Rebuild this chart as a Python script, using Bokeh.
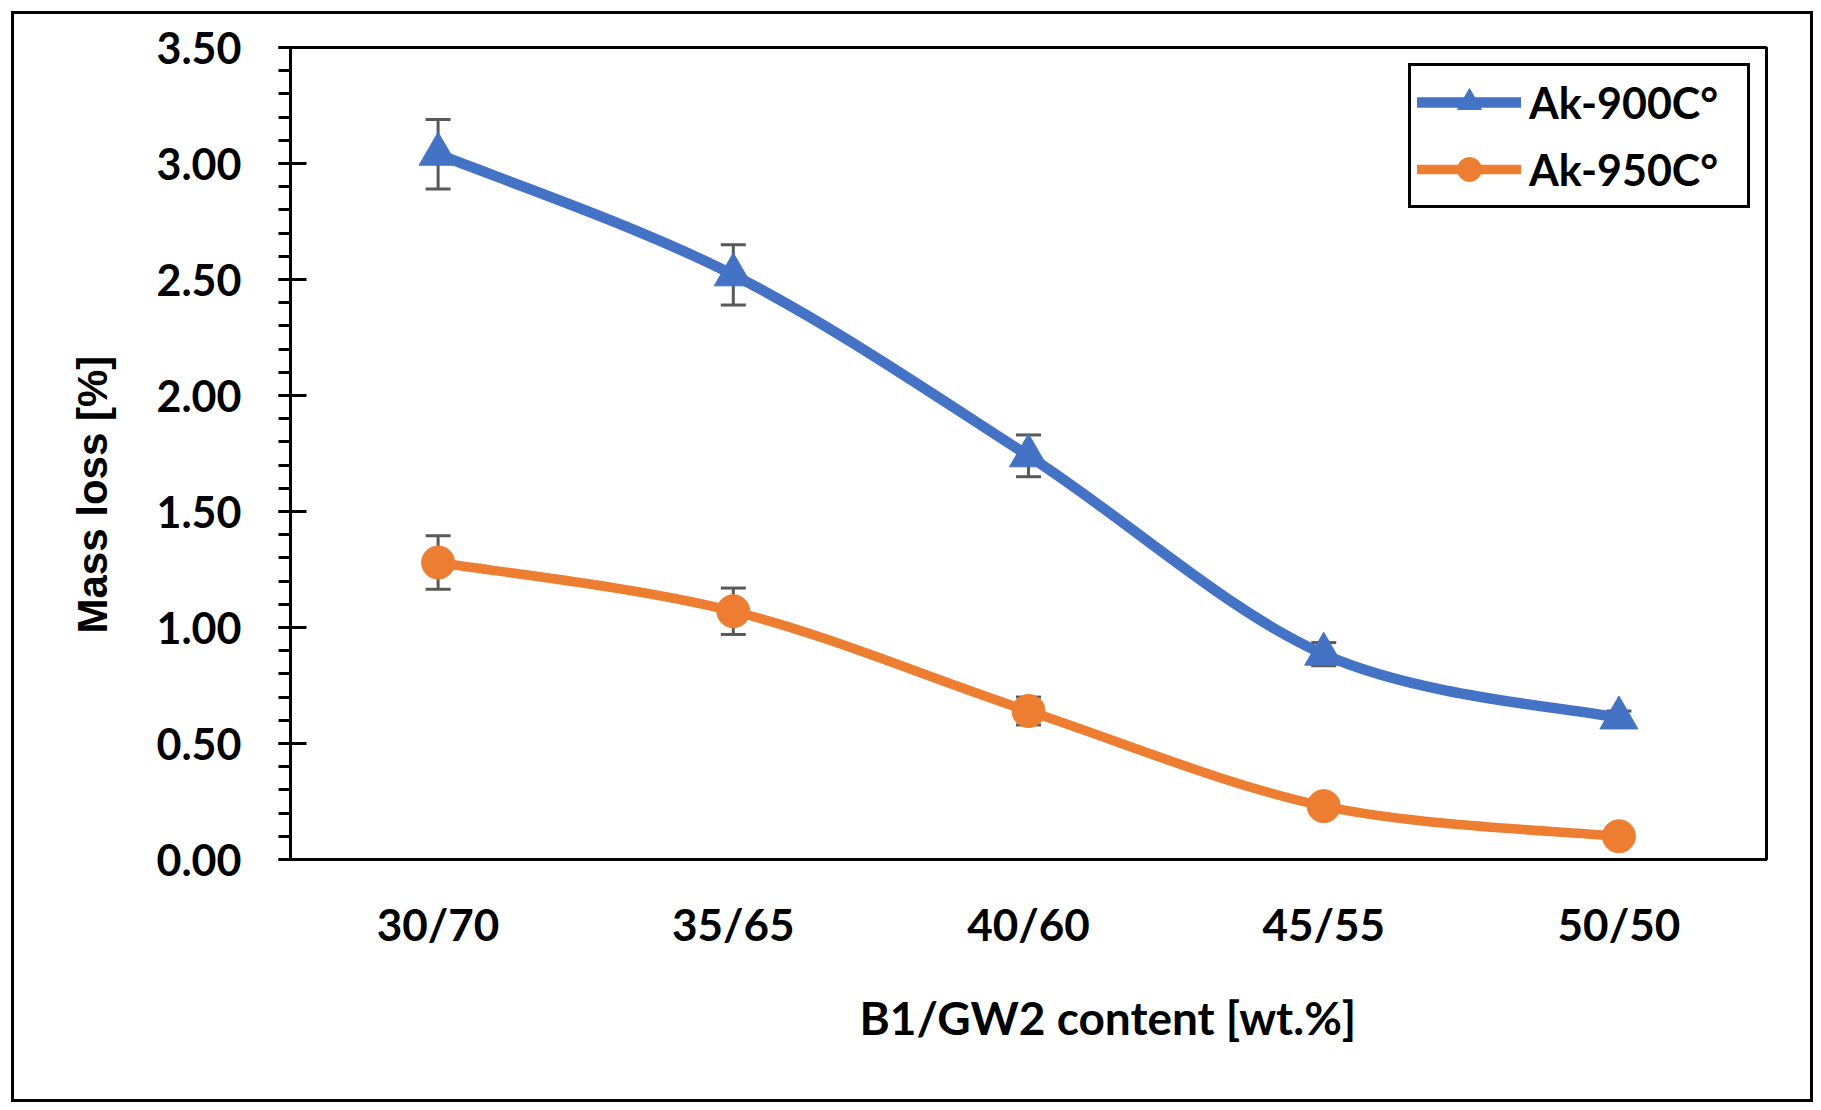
import math
from bokeh.plotting import figure
from bokeh.models import (ColumnDataSource, Whisker, TeeHead, Legend, LegendItem, Title,
                          SingleIntervalTicker, FixedTicker, NumeralTickFormatter, Range1d)
from bokeh.embed import file_html
from bokeh.resources import INLINE

# ---------------- data ----------------
categories = ["30/70", "35/65", "40/60", "45/55", "50/50"]
series_names = ["Ak-900C°", "Ak-950C°"]
ak900 = [3.04, 2.52, 1.74, 0.885, 0.61]
ak900_err = [0.15, 0.13, 0.09, 0.05, 0.03]
ak950 = [1.28, 1.07, 0.64, 0.23, 0.10]
ak950_err = [0.115, 0.10, 0.06, 0.03, 0.02]
y_tick_step = 0.5
y_max = 3.5
x_title = "B1/GW2 content [wt.%]"
y_title = "Mass loss [%]"

BLUE = "#4472C4"
ORANGE = "#ED7D31"
ERR = "#595959"

xs = [i + 0.5 for i in range(len(categories))]

p = figure(width=1802, height=1091, output_backend="svg", toolbar_location=None,
           x_range=Range1d(0, len(categories)), y_range=Range1d(0, y_max),
           min_border_left=276, min_border_right=50, min_border_top=33, min_border_bottom=246)
p.margin = (11, 0, 0, 11)
p.styles = {"border": "3px solid black"}
p.background_fill_color = "white"
p.border_fill_color = "white"
p.xgrid.visible = False
p.ygrid.visible = False
p.outline_line_color = "black"
p.outline_line_width = 3

# y axis
p.yaxis.ticker = SingleIntervalTicker(interval=y_tick_step, num_minor_ticks=5)
p.yaxis.formatter = NumeralTickFormatter(format="0.00")
p.yaxis.axis_line_width = 3
p.yaxis.axis_line_color = "black"
p.yaxis.major_tick_line_width = 3
p.yaxis.minor_tick_line_width = 3
p.yaxis.major_tick_out = 12
p.yaxis.major_tick_in = 16
p.yaxis.minor_tick_out = 12
p.yaxis.minor_tick_in = 0
p.yaxis.major_label_standoff = 37
p.yaxis.major_label_text_font = "Lato"
p.yaxis.major_label_text_font_style = "bold"
p.yaxis.major_label_text_font_size = "43px"
p.yaxis.major_label_text_color = "black"

# x axis
p.xaxis.ticker = FixedTicker(ticks=xs)
p.xaxis.major_label_overrides = {x: c for x, c in zip(xs, categories)}
p.xaxis.axis_line_width = 3
p.xaxis.axis_line_color = "black"
p.xaxis.major_tick_out = 0
p.xaxis.major_tick_in = 0
p.xaxis.minor_tick_out = 0
p.xaxis.minor_tick_in = 0
p.xaxis.major_label_standoff = 38
p.xaxis.major_label_text_font = "Lato"
p.xaxis.major_label_text_font_style = "bold"
p.xaxis.major_label_text_font_size = "44px"
p.xaxis.major_label_text_color = "black"

# axis titles (offset like in the original)
xt = Title(text=x_title, align="left", offset=569, vertical_align="top",
           text_font="Lato", text_font_style="bold", text_font_size="46px",
           text_color="black")
yt = Title(text=y_title, align="left", offset=226, vertical_align="bottom",
           text_font="Liberation Sans", text_font_style="bold", text_font_size="42px",
           text_color="black")
if "standoff" in Title.properties():
    xt.standoff = 75
    yt.standoff = 76
p.add_layout(xt, "below")
p.add_layout(yt, "left")


def bezier_source(x, y):
    n = len(x)
    d = dict(x0=[], y0=[], x1=[], y1=[], cx0=[], cy0=[], cx1=[], cy1=[])
    for i in range(n - 1):
        im1 = max(i - 1, 0)
        ip2 = min(i + 2, n - 1)
        d["x0"].append(x[i]); d["y0"].append(y[i])
        d["x1"].append(x[i + 1]); d["y1"].append(y[i + 1])
        d["cx0"].append(x[i] + (x[i + 1] - x[im1]) / 6.0)
        d["cy0"].append(y[i] + (y[i + 1] - y[im1]) / 6.0)
        d["cx1"].append(x[i + 1] - (x[ip2] - x[i]) / 6.0)
        d["cy1"].append(y[i + 1] - (y[ip2] - y[i]) / 6.0)
    return ColumnDataSource(d)


items = []
for name, vals, errs, color, marker, msize, lw in [
        (series_names[0], ak900, ak900_err, BLUE, "triangle", 38, 10.5),
        (series_names[1], ak950, ak950_err, ORANGE, "circle", 33, 9.5)]:
    src = ColumnDataSource(dict(x=xs, y=vals,
                                upper=[v + e for v, e in zip(vals, errs)],
                                lower=[v - e for v, e in zip(vals, errs)]))
    w = Whisker(source=src, base="x", upper="upper", lower="lower",
                line_color=ERR, line_width=3,
                upper_head=TeeHead(size=25, line_color=ERR, line_width=3),
                lower_head=TeeHead(size=25, line_color=ERR, line_width=3))
    p.add_layout(w)
    bz = p.bezier(x0="x0", y0="y0", x1="x1", y1="y1", cx0="cx0", cy0="cy0",
                  cx1="cx1", cy1="cy1", source=bezier_source(xs, vals),
                  line_color=color, line_width=lw, line_cap="round")
    sc = p.scatter("x", "y", source=src, marker=marker, size=msize,
                   fill_color=color, line_color=color, line_width=1)
    items.append(LegendItem(label=name, renderers=[bz, sc]))

legend = Legend(items=items, location="top_right",
                label_text_font="Lato", label_text_font_style="bold",
                label_text_font_size="43px", label_text_color="black",
                glyph_width=104, glyph_height=60, label_height=60, label_width=212,
                spacing=7, padding=6, margin=16, label_standoff=8,
                border_line_color="black", border_line_width=3, border_line_alpha=1.0,
                background_fill_color="white", background_fill_alpha=1.0)
p.add_layout(legend)

open("out.html", "w").write(file_html(p, INLINE))
